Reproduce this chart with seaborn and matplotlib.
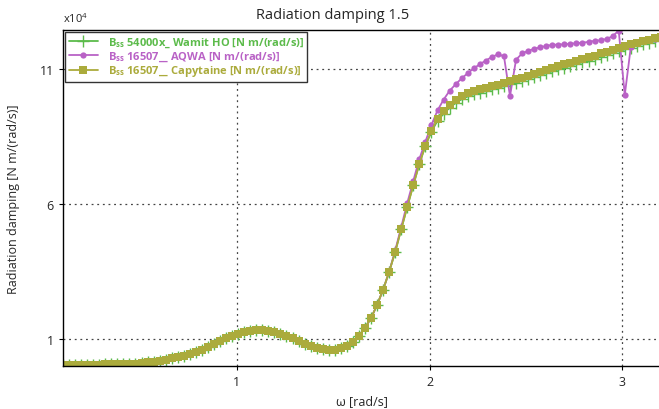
import numpy as np
import pandas as pd
import matplotlib
matplotlib.use("Agg")
import matplotlib.pyplot as plt
import seaborn as sns
from matplotlib.ticker import FuncFormatter

# frequency grid [rad/s], 100 equally spaced points
omega = np.linspace(0.1, 3.2, 100)

# radiation damping B55, values in units of 1e4 N m/(rad/s)
capytaine = [
    0.05, 0.05, 0.05, 0.05, 0.05, 0.05, 0.05, 0.06, 0.06, 0.06,
    0.07, 0.08, 0.09, 0.11, 0.13, 0.16, 0.19, 0.23, 0.28, 0.33,
    0.38, 0.45, 0.52, 0.61, 0.71, 0.82, 0.92, 1.02, 1.11, 1.19,
    1.26, 1.31, 1.34, 1.34, 1.31, 1.26, 1.19, 1.11, 1.02, 0.91,
    0.81, 0.74, 0.67, 0.62, 0.60, 0.61, 0.66, 0.75, 0.90, 1.12,
    1.41, 1.78, 2.26, 2.83, 3.49, 4.23, 5.07, 5.90, 6.70, 7.49,
    8.16, 8.71, 9.15, 9.44, 9.68, 9.86, 10.00, 10.10, 10.18, 10.24,
    10.30, 10.36, 10.42, 10.48, 10.55, 10.61, 10.68, 10.75, 10.82, 10.89,
    10.96, 11.03, 11.10, 11.17, 11.23, 11.30, 11.37, 11.43, 11.49, 11.57,
    11.64, 11.71, 11.78, 11.84, 11.91, 11.97, 12.03, 12.08, 12.13, 12.18,
]
wamit = [
    0.05, 0.05, 0.05, 0.05, 0.05, 0.05, 0.05, 0.06, 0.06, 0.06,
    0.07, 0.08, 0.09, 0.11, 0.13, 0.16, 0.19, 0.23, 0.28, 0.33,
    0.38, 0.45, 0.52, 0.61, 0.71, 0.82, 0.92, 1.02, 1.11, 1.19,
    1.26, 1.31, 1.34, 1.34, 1.31, 1.26, 1.19, 1.11, 1.02, 0.91,
    0.81, 0.74, 0.67, 0.62, 0.60, 0.61, 0.66, 0.75, 0.90, 1.12,
    1.41, 1.78, 2.26, 2.83, 3.49, 4.23, 5.07, 5.90, 6.70, 7.49,
    8.16, 8.68, 9.08, 9.34, 9.56, 9.74, 9.88, 9.98, 10.06, 10.12,
    10.18, 10.24, 10.30, 10.36, 10.43, 10.49, 10.56, 10.63, 10.70, 10.77,
    10.84, 10.91, 10.98, 11.05, 11.11, 11.18, 11.25, 11.31, 11.37, 11.45,
    11.52, 11.59, 11.66, 11.72, 11.79, 11.86, 11.92, 11.97, 12.02, 12.07,
]
aqwa = [
    0.05, 0.05, 0.05, 0.05, 0.05, 0.05, 0.05, 0.06, 0.06, 0.06,
    0.07, 0.08, 0.09, 0.11, 0.13, 0.16, 0.19, 0.23, 0.28, 0.33,
    0.38, 0.45, 0.52, 0.61, 0.71, 0.82, 0.92, 1.02, 1.11, 1.19,
    1.26, 1.31, 1.34, 1.34, 1.31, 1.26, 1.19, 1.11, 1.02, 0.91,
    0.81, 0.74, 0.67, 0.62, 0.60, 0.61, 0.66, 0.75, 0.90, 1.12,
    1.41, 1.78, 2.26, 2.83, 3.49, 4.28, 5.15, 6.04, 6.86, 7.67,
    8.31, 8.93, 9.46, 9.86, 10.19, 10.43, 10.65, 10.84, 11.02, 11.17,
    11.31, 11.44, 11.54, 11.47, 9.99, 11.34, 11.57, 11.67, 11.74, 11.80,
    11.85, 11.89, 11.90, 11.91, 11.93, 11.95, 11.97, 12.00, 12.04, 12.06,
    12.11, 12.21, 12.42, 10.03, 11.81, 11.95, 12.02, 12.07, 12.12, 12.17,
]

labels = [
    r'B$_{\mathbf{ss}}$ 54000x_ Wamit HO [N m/(rad/s)]',
    r'B$_{\mathbf{ss}}$ 16507__ AQWA [N m/(rad/s)]',
    r'B$_{\mathbf{ss}}$ 16507__ Capytaine [N m/(rad/s)]',
]
colors = ['#5cbb4b', '#b962c6', '#abab3c']

sns.set_style("white")
plt.rcParams['font.family'] = ['Open Sans', 'DejaVu Sans']
plt.rcParams['mathtext.fontset'] = 'custom'
plt.rcParams['mathtext.rm'] = 'Open Sans'
plt.rcParams['mathtext.bf'] = 'Open Sans:bold'

fig = plt.figure(figsize=(6.59, 4.10), dpi=100)
ax = fig.add_axes([63 / 659, 1 - 367 / 410, 598 / 659, 336 / 410])

sns.lineplot(x=omega, y=np.array(wamit) * 1e4, ax=ax, color=colors[0], marker='+',
             markersize=9, markeredgewidth=1.0, markeredgecolor=colors[0],
             linewidth=1.3, label=labels[0])
sns.lineplot(x=omega, y=np.array(aqwa) * 1e4, ax=ax, color=colors[1], marker='o',
             markersize=4.5, markeredgewidth=0, linewidth=1.3, label=labels[1])
sns.lineplot(x=omega, y=np.array(capytaine) * 1e4, ax=ax, color=colors[2], marker='s',
             markersize=5.5, markeredgewidth=0, linewidth=1.3, label=labels[2])

ax.set_xlim(0.1, 3.2)
ax.set_ylim(0, 12.44e4)
ax.set_xticks([1, 2, 3])
ax.set_yticks([1e4, 6e4, 11e4])
ax.yaxis.set_major_formatter(FuncFormatter(lambda v, p: f'{v / 1e4:g}'))
ax.grid(True, linestyle=(0, (1.5, 3)), color='#444444', linewidth=0.9)
ax.tick_params(axis='both', labelsize=9, length=3, direction='out', left=True, bottom=True,
               color='black')
for s in ax.spines.values():
    s.set_color('black')
    s.set_linewidth(1.0)

fig.text(0.505, 0.962, 'Radiation damping 1.5', fontsize=10.5, ha='center', va='center')
ax.set_xlabel('ω [rad/s]', fontsize=9, labelpad=4)
ax.set_ylabel('Radiation damping [N m/(rad/s)]', fontsize=9, labelpad=14)
ax.text(0.0, 1.015, r'x10$^{4}$', transform=ax.transAxes, fontsize=8, ha='left', va='bottom')

leg = ax.legend(loc='upper left', bbox_to_anchor=(0.004, 0.994), borderaxespad=0,
                fancybox=False, framealpha=1, edgecolor='#333333', numpoints=1,
                handlelength=2.6, handletextpad=0.9, labelspacing=0.05,
                borderpad=0.3, prop={'size': 8, 'weight': 'bold'})
leg.get_frame().set_linewidth(1.0)
for txt, c in zip(leg.get_texts(), colors):
    txt.set_color(c)

fig.savefig('out.png', dpi=100)
